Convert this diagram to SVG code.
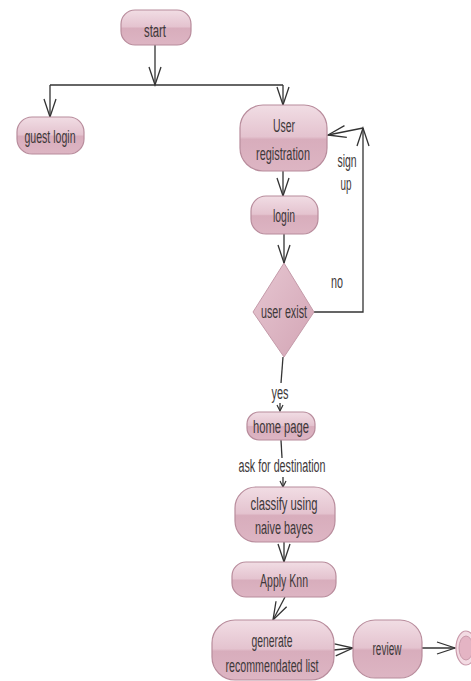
<svg xmlns="http://www.w3.org/2000/svg" width="471" height="681" viewBox="0 0 471 681">
<defs>
<linearGradient id="g" x1="0" y1="0" x2="0" y2="1">
<stop offset="0" stop-color="#f1dde4"/>
<stop offset="0.48" stop-color="#e4c3cf"/>
<stop offset="0.52" stop-color="#d8adbc"/>
<stop offset="1" stop-color="#ddb5c3"/>
</linearGradient>
<linearGradient id="gd" x1="0" y1="0" x2="1" y2="1">
<stop offset="0" stop-color="#e6c6d1"/>
<stop offset="1" stop-color="#d3a5b5"/>
</linearGradient>
<marker id="a" markerUnits="userSpaceOnUse" markerWidth="24" markerHeight="16" refX="19" refY="7" orient="auto">
<path d="M1,1 L19,7 L1,13" fill="none" stroke="#333" stroke-width="1.3"/>
</marker>
<marker id="s" markerUnits="userSpaceOnUse" markerWidth="10" markerHeight="10" refX="7" refY="4" orient="auto">
<path d="M1,1 L7,4 L1,7" fill="none" stroke="#333" stroke-width="1.2"/>
</marker>
</defs>
<style>
.n{fill:url(#g);stroke:#b88c9c;stroke-width:1.2}
.d{fill:url(#gd);stroke:#c49aa9;stroke-width:1}
.t{font-family:"Liberation Sans",Arial,sans-serif;font-size:18px;fill:#3d3839;text-anchor:middle}
.c{fill:none;stroke:#333;stroke-width:1.3}
</style>
<rect width="471" height="681" fill="#fff"/>
<g id="connectors">
<path class="c" d="M155,45 V85" marker-end="url(#a)"/>
<path class="c" d="M50,85 H283"/>
<path class="c" d="M50,85 V117" marker-end="url(#a)"/>
<path class="c" d="M283,85 V105" marker-end="url(#a)"/>
<path class="c" d="M283,171 V196" marker-end="url(#a)"/>
<path class="c" d="M284,234 V263" marker-end="url(#a)"/>
<path class="c" d="M314,312 H363 V128" marker-end="url(#a)"/>
<path class="c" d="M363,128 L328,135" marker-end="url(#a)"/>
<path class="c" d="M283,357 L281,383"/>
<path class="c" d="M280,403 V411" marker-end="url(#s)"/>
<path class="c" d="M281,440 L282,458"/>
<path class="c" d="M283,477 V487" marker-end="url(#s)"/>
<path class="c" d="M284,542 V562" marker-end="url(#a)"/>
<path class="c" d="M285,597 L273,620" marker-end="url(#a)"/>
<path class="c" d="M334,650 L353,648" marker-end="url(#a)"/>
<path class="c" d="M422,648 H455" marker-end="url(#a)"/>
<text class="t" transform="translate(347,167) scale(0.58,1)">sign</text>
<text class="t" transform="translate(346,190) scale(0.55,1)">up</text>
<text class="t" x="337" y="288" textLength="12" lengthAdjust="spacingAndGlyphs">no</text>
<text class="t" x="280" y="399" textLength="17" lengthAdjust="spacingAndGlyphs">yes</text>
<text class="t" x="282" y="472" textLength="87" lengthAdjust="spacingAndGlyphs">ask for destination</text>
</g>
<g id="start">
<rect class="n" x="121" y="10" width="70" height="35" rx="14"/>
<text class="t" x="155" y="37" textLength="22" lengthAdjust="spacingAndGlyphs">start</text>
</g>
<g id="guest-login">
<rect class="n" x="17" y="117" width="67" height="37" rx="15"/>
<text class="t" x="50" y="143" textLength="51" lengthAdjust="spacingAndGlyphs">guest login</text>
</g>
<g id="user-registration">
<rect class="n" x="240" y="105" width="87" height="66" rx="23"/>
<text class="t" x="284" y="132" textLength="22" lengthAdjust="spacingAndGlyphs">User</text>
<text class="t" transform="translate(283,160) scale(0.607,1)">registration</text>
</g>
<g id="login">
<rect class="n" x="251" y="196" width="67" height="38" rx="15"/>
<text class="t" x="284" y="222" textLength="22" lengthAdjust="spacingAndGlyphs">login</text>
</g>
<g id="user-exist">
<polygon class="d" points="284,263 314,312 284,357 253,312"/>
<text class="t" x="284" y="318" textLength="46" lengthAdjust="spacingAndGlyphs">user exist</text>
</g>
<g id="home-page">
<rect class="n" x="247" y="412" width="68" height="28" rx="12"/>
<text class="t" x="281" y="433" textLength="56" lengthAdjust="spacingAndGlyphs">home page</text>
</g>
<g id="classify">
<rect class="n" x="235" y="487" width="100" height="55" rx="21"/>
<text class="t" x="284" y="510" textLength="67" lengthAdjust="spacingAndGlyphs">classify using</text>
<text class="t" x="284" y="534" textLength="58" lengthAdjust="spacingAndGlyphs">naive bayes</text>
</g>
<g id="apply-knn">
<rect class="n" x="232" y="562" width="104" height="35" rx="14"/>
<text class="t" x="284" y="587" textLength="48" lengthAdjust="spacingAndGlyphs">Apply Knn</text>
</g>
<g id="generate">
<rect class="n" x="212" y="620" width="122" height="60" rx="23"/>
<text class="t" x="272" y="647" textLength="41" lengthAdjust="spacingAndGlyphs">generate</text>
<text class="t" x="272" y="672" textLength="93" lengthAdjust="spacingAndGlyphs">recommendated list</text>
</g>
<g id="review">
<rect class="n" x="353" y="620" width="69" height="58" rx="22"/>
<text class="t" x="387" y="655" textLength="29" lengthAdjust="spacingAndGlyphs">review</text>
</g>
<g id="end">
<ellipse cx="466" cy="648" rx="10" ry="17" fill="#f3dbe3" stroke="#c99aab" stroke-width="1.2"/>
<ellipse cx="466" cy="648" rx="7" ry="12" fill="#e4b4c4" stroke="#c99aab" stroke-width="1"/>
</g>
</svg>
